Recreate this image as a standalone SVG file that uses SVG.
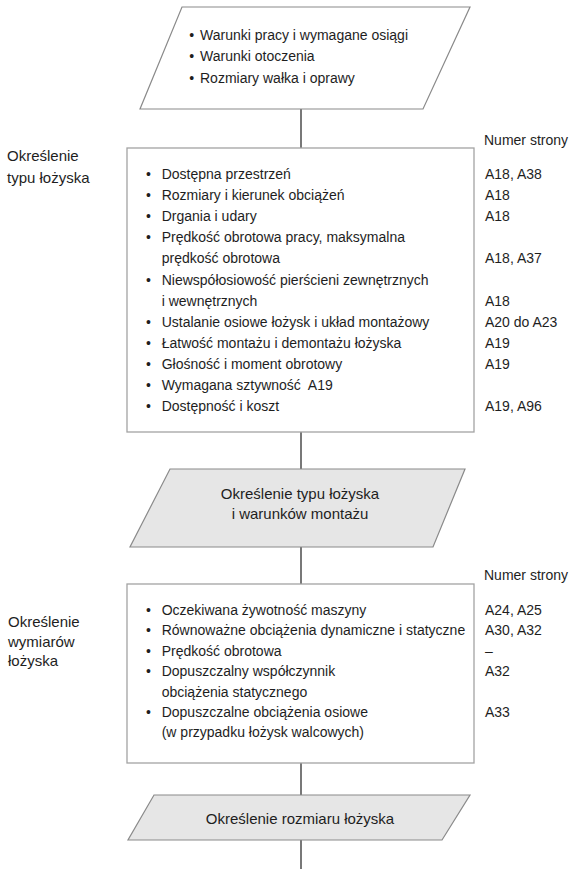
<svg xmlns="http://www.w3.org/2000/svg" width="573" height="869" viewBox="0 0 573 869">
<style>
text{font-family:"Liberation Sans",Arial,sans-serif;fill:#1e1e1e;}
.t{font-size:14px;}
.lbl{font-size:15px;}
.c{font-size:15px;text-anchor:middle;}
.box{fill:#fff;stroke:#a3a3a3;stroke-width:1.3;}
.io{fill:#fff;stroke:#8a8a8a;stroke-width:1.2;}
.io2{fill:#e6e6e6;stroke:#8a8a8a;stroke-width:1.2;}
.ln{stroke:#1e1e1e;stroke-width:1.2;fill:none;}
</style>
<rect width="573" height="869" fill="#fff"/>
<g id="connectors">
<line class="ln" x1="301" y1="109" x2="301" y2="148"/>
<line class="ln" x1="301" y1="432" x2="301" y2="469"/>
<line class="ln" x1="301" y1="547" x2="301" y2="584"/>
<line class="ln" x1="301" y1="763" x2="301" y2="795"/>
<line class="ln" x1="301" y1="840" x2="301" y2="869"/>
</g>
<g id="input">
<polygon class="io" points="182,7 470,7 423,109 140,109"/>
<text class="t" x="189.3" y="39.5">•</text><text class="t" x="200" y="39.5">Warunki pracy i wymagane osiągi</text>
<text class="t" x="189.3" y="61">•</text><text class="t" x="200" y="61">Warunki otoczenia</text>
<text class="t" x="189.3" y="82.5">•</text><text class="t" x="200" y="82.5">Rozmiary wałka i oprawy</text>
</g>
<g id="label1">
<text class="lbl" x="7" y="161">Określenie</text>
<text class="lbl" x="7" y="183">typu łożyska</text>
</g>
<g id="box1">
<rect class="box" x="127" y="148" width="347" height="284"/>
<text class="t" x="484" y="145">Numer strony</text>
<g class="t">
<text x="146" y="179">•</text><text x="161.7" y="179">Dostępna przestrzeń</text><text x="485" y="179">A18, A38</text>
<text x="146" y="200.1">•</text><text x="161.7" y="200.1">Rozmiary i kierunek obciążeń</text><text x="485" y="200.1">A18</text>
<text x="146" y="221.2">•</text><text x="161.7" y="221.2">Drgania i udary</text><text x="485" y="221.2">A18</text>
<text x="146" y="242.3">•</text><text x="161.7" y="242.3">Prędkość obrotowa pracy, maksymalna</text>
<text x="161.7" y="263.4">prędkość obrotowa</text><text x="485" y="263.4">A18, A37</text>
<text x="146" y="284.5">•</text><text x="161.7" y="284.5">Niewspółosiowość pierścieni zewnętrznych</text>
<text x="161.7" y="305.6">i wewnętrznych</text><text x="485" y="305.6">A18</text>
<text x="146" y="326.7">•</text><text x="161.7" y="326.7">Ustalanie osiowe łożysk i układ montażowy</text><text x="485" y="326.7">A20 do A23</text>
<text x="146" y="347.8">•</text><text x="161.7" y="347.8">Łatwość montażu i demontażu łożyska</text><text x="485" y="347.8">A19</text>
<text x="146" y="368.9">•</text><text x="161.7" y="368.9">Głośność i moment obrotowy</text><text x="485" y="368.9">A19</text>
<text x="146" y="390">•</text><text x="161.7" y="390" xml:space="preserve">Wymagana sztywność  A19</text>
<text x="146" y="411.1">•</text><text x="161.7" y="411.1">Dostępność i koszt</text><text x="485" y="411.1">A19, A96</text>
</g>
</g>
<g id="result1">
<polygon class="io2" points="170,469 465,469 433,547 130,547"/>
<text class="c" x="300" y="498.7">Określenie typu łożyska</text>
<text class="c" x="300" y="518.7">i warunków montażu</text>
</g>
<g id="label2">
<text class="lbl" x="8" y="627">Określenie</text>
<text class="lbl" x="8" y="647">wymiarów</text>
<text class="lbl" x="8" y="666">łożyska</text>
</g>
<g id="box2">
<rect class="box" x="127" y="584" width="347" height="179"/>
<text class="t" x="484" y="580">Numer strony</text>
<g class="t">
<text x="146" y="615">•</text><text x="161.7" y="615">Oczekiwana żywotność maszyny</text><text x="485" y="615">A24, A25</text>
<text x="146" y="635.4">•</text><text x="161.7" y="635.4">Równoważne obciążenia dynamiczne i statyczne</text><text x="485" y="635.4">A30, A32</text>
<text x="146" y="655.8">•</text><text x="161.7" y="655.8">Prędkość obrotowa</text><text x="485" y="655.8">–</text>
<text x="146" y="676.2">•</text><text x="161.7" y="676.2">Dopuszczalny współczynnik</text><text x="485" y="676.2">A32</text>
<text x="161.7" y="696.6">obciążenia statycznego</text>
<text x="146" y="717">•</text><text x="161.7" y="717">Dopuszczalne obciążenia osiowe</text><text x="485" y="717">A33</text>
<text x="161.7" y="737.4">(w przypadku łożysk walcowych)</text>
</g>
</g>
<g id="result2">
<polygon class="io2" points="154,795 470,795 442,840 128,840"/>
<text class="c" x="300" y="823.5">Określenie rozmiaru łożyska</text>
</g>
</svg>
